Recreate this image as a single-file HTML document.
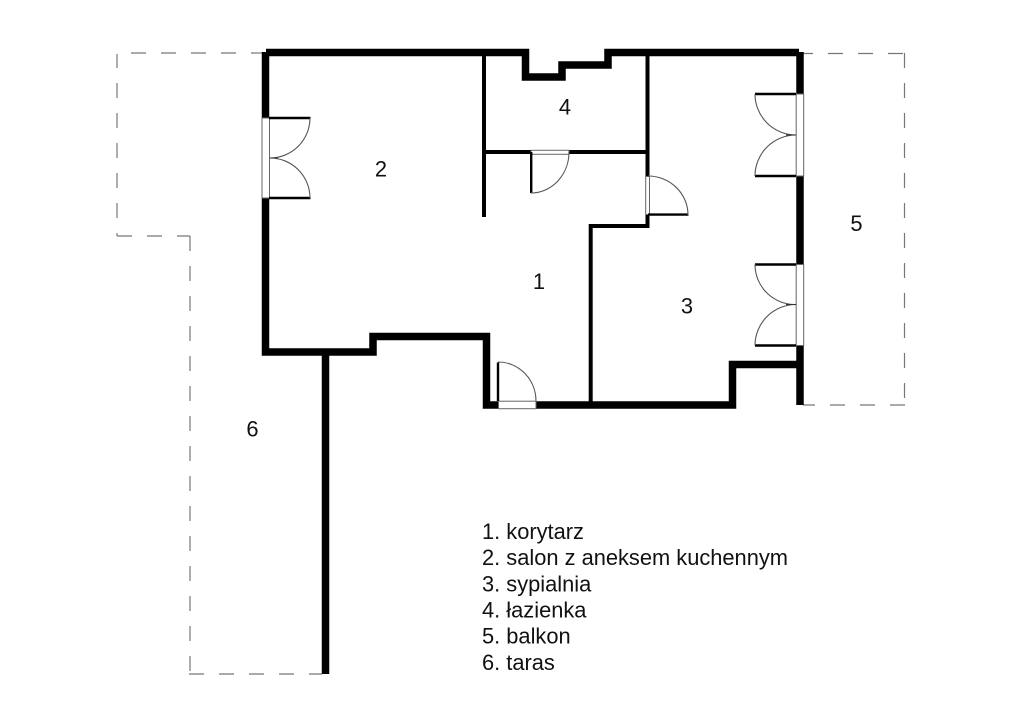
<!DOCTYPE html>
<html><head><meta charset="utf-8"><style>html,body{margin:0;padding:0;background:#fff}svg{display:block}text{font-family:"Liberation Sans",sans-serif;fill:#111}</style></head>
<body>
<svg width="1024" height="724" viewBox="0 0 1024 724" xmlns="http://www.w3.org/2000/svg">
<rect width="1024" height="724" fill="#fff"/>
<!-- dashed terrace/balcony outlines -->
<g fill="none" stroke="#777" stroke-width="1.2" stroke-dasharray="15 15">
<path d="M131 53H262"/>
<path d="M117 54V236" stroke-dashoffset="1"/>
<path d="M117 236H190"/>
<path d="M190 236V674" stroke-dashoffset="0"/>
<path d="M189 674H322"/>
<path d="M828 53.5H905" />
<path d="M904.5 53V405" stroke-dashoffset="0"/>
<path d="M830 405H905"/>
</g>
<g stroke="#777" stroke-width="1.2"><path d="M802 53.5H813M803 405H815"/></g>
<!-- thick walls -->
<g fill="none" stroke="#000" stroke-width="7.5" stroke-linejoin="miter" stroke-miterlimit="4">
<path d="M266 52.5H525.5V77H562V65H608V52.5H799"/>
<path d="M265.500 52V118"/>
<path d="M265.500 198V352H373V336.500H486.500V405H498"/>
<path d="M325.500 352V674"/>
<path d="M536 405H732.500V364.500H800"/>
<path d="M800 52V94"/>
<path d="M800 176V264.500"/>
<path d="M800 345.500V405"/>
</g>
<!-- thin walls -->
<g fill="none" stroke="#000" stroke-width="4">
<path d="M484 52V217"/>
<path d="M484 152H531"/>
<path d="M569 152H647.500"/>
<path d="M647.500 52V176.500"/>
<path d="M647.500 214V226H590.700V405" stroke-linejoin="miter"/>
</g>
<!-- windows / door frames -->
<g fill="#fff" stroke="#666" stroke-width="1">
<rect x="262" y="118" width="7.5" height="80"/>
<rect x="796.200" y="94" width="7.5" height="82"/>
<rect x="796.200" y="264.500" width="7.5" height="81"/>
<rect x="498.500" y="401.200" width="37.5" height="7.5"/>
<rect x="531" y="150.300" width="38" height="4"/>
<rect x="645.700" y="176.500" width="3.8" height="38"/>
</g>
<!-- door leaves -->
<g fill="none" stroke="#000" stroke-width="2.4">
<path d="M269 118H310.500"/>
<path d="M269 198H310.500"/>
<path d="M796 94H755"/>
<path d="M796 176H755"/>
<path d="M796 264.500H755"/>
<path d="M796 345.500H755"/>
<path d="M531.200 152V193"/>
<path d="M648 214.600H688.500"/>
<path d="M498 401V362.500"/>
</g>
<!-- door arcs -->
<g fill="none" stroke="#555" stroke-width="1.1">
<path d="M310 118A40 40 0 0 1 270 158"/>
<path d="M310 198A40 40 0 0 0 270 158"/>
<path d="M755 94A41 41 0 0 0 796 135"/>
<path d="M755 176A41 41 0 0 1 796 135"/>
<path d="M755 264.500A40 40 0 0 0 796 304.500"/>
<path d="M755 345.500A41 41 0 0 1 796 304.500"/>
<path d="M569 152A38 41 0 0 1 531 193"/>
<path d="M648 176A40 39 0 0 1 688 215"/>
<path d="M498 362A38 39 0 0 1 536 401"/>
</g>
<path d="M786 135H796M786 304.500H796M270 158H278" stroke="#333" stroke-width="1"/>
<!-- room numbers -->
<g font-size="21.9" text-anchor="middle">
<text x="381" y="176.500">2</text>
<text x="565" y="114.500">4</text>
<text x="539" y="289">1</text>
<text x="687" y="313.500">3</text>
<text x="856.500" y="231">5</text>
<text x="252.500" y="436.500">6</text>
</g>
<!-- legend -->
<g font-size="21.85">
<text x="482" y="539">1. korytarz</text>
<text x="482" y="565">2. salon z aneksem kuchennym</text>
<text x="482" y="591.500">3. sypialnia</text>
<text x="482" y="617.500">4. łazienka</text>
<text x="482" y="643.500">5. balkon</text>
<text x="482" y="670">6. taras</text>
</g>
</svg>
</body></html>
